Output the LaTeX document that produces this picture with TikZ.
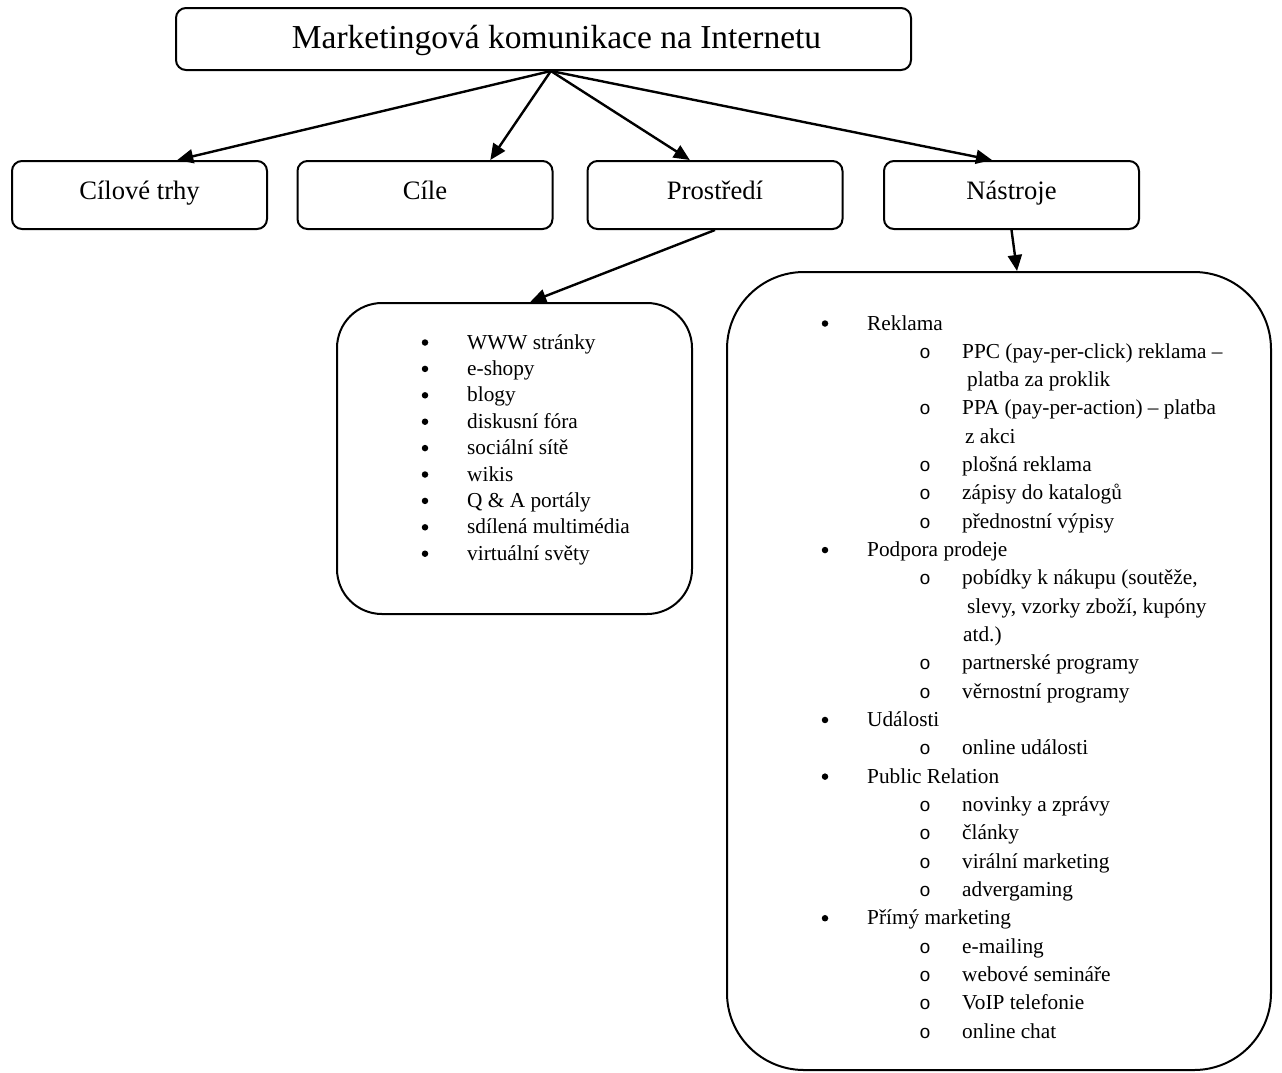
\documentclass[tikz,border=0pt]{standalone}
\usepackage{fontspec}
\setmainfont{Liberation Serif}
\newfontfamily\monof{Liberation Mono}
\usetikzlibrary{arrows.meta,calc}
\begin{document}
\begin{tikzpicture}[x=1pt,y=-1pt,
  box/.style={draw, line width=2pt, rounded corners=10pt, inner sep=0pt, align=center},
  titlebox/.style={box, minimum width=735pt, minimum height=62pt, text height=24pt, text depth=5pt,
    font=\fontsize{33.5}{38}\selectfont},
  rowbox/.style={box, minimum width=255pt, minimum height=68pt, text height=19pt, text depth=11pt,
    font=\fontsize{26.6}{30}\selectfont},
  listbox/.style={draw, line width=2pt, inner sep=0pt},
  conn/.style={line width=2.4pt, -{Triangle[length=16pt,width=14pt]}},
  li/.style={anchor=base west, inner sep=0pt, font=\fontsize{21.3}{25}\selectfont},
  bul/.style={circle, fill=black, inner sep=0pt, minimum size=6.5pt},
  subbul/.style={anchor=base, inner sep=0pt, font=\monof\fontsize{19}{24}\selectfont},
]
\useasboundingbox (0,0) rectangle (1282,1072);

% main boxes
\node[titlebox] (title) at (543.5,39) {\hspace*{26pt}Marketingová komunikace na Internetu};
\node[rowbox] (ct) at (139.5,195) {Cílové trhy};
\node[rowbox] (ci) at (425,195) {Cíle};
\node[rowbox] (pr) at (715,195) {Prostředí};
\node[rowbox] (na) at (1011.5,195) {Nástroje};

% list boxes
\node[listbox, rounded corners=45pt, minimum width=355pt, minimum height=311pt] (plist) at (514.5,458.5) {};
\node[listbox, rounded corners=77pt, minimum width=544pt, minimum height=798pt] (nlist) at (999,671) {};

% connectors
\coordinate (src) at ($(title.south west)!0.51!(title.south east)$);
\draw[conn] (src) -- ($(ct.north west)!0.647!(ct.north east)$);
\draw[conn] (src) -- ($(ci.north west)!0.754!(ci.north east)$);
\draw[conn] (src) -- ($(pr.north west)!0.402!(pr.north east)$);
\draw[conn] (src) -- ($(na.north west)!0.424!(na.north east)$);
\draw[conn] (pr.south) -- ($(plist.north west)!0.544!(plist.north east)$);
\draw[conn] (na.south) -- ($(nlist.north west)!0.533!(nlist.north east)$);

% Prostredi list
\foreach \t [count=\i from 0] in {WWW stránky, e-shopy, blogy, diskusní fóra, sociální sítě, wikis, Q \& A portály, sdílená multimédia, virtuální světy}{
  \node[bul] (pb\i) at (425, 349+26.4*\i-6.5) {};
  \node[li] (pt\i) at (467, 349+26.4*\i) {\t};
}

% Nastroje list: level 1 items
\foreach \i/\t in {0/Reklama, 8/Podpora prodeje, 14/Události, 16/Public Relation, 21/Přímý marketing}{
  \node[bul] (nb\i) at (825, 330+28.32*\i-6.5) {};
  \node[li] (nt\i) at (867, 330+28.32*\i) {\t};
}
% level 2 items
\foreach \i/\t in {1/{PPC (pay-per-click) reklama –}, 3/{PPA (pay-per-action) – platba}, 5/plošná reklama, 6/zápisy do katalogů, 7/přednostní výpisy, 9/{pobídky k nákupu (soutěže,}, 12/partnerské programy, 13/věrnostní programy, 15/online události, 17/novinky a zprávy, 18/články, 19/virální marketing, 20/advergaming, 22/e-mailing, 23/webové semináře, 24/VoIP telefonie, 25/online chat}{
  \node[subbul] (nb\i) at (925, 330+28.32*\i) {o};
  \node[li] (nt\i) at (962, 330+28.32*\i) {\t};
}
% continuation lines
\foreach \i/\x/\t in {2/967/platba za proklik, 4/965/z akci, 10/967/{slevy, vzorky zboží, kupóny}, 11/963/atd.)}{
  \node[li] (nt\i) at (\x, 330+28.32*\i) {\t};
}
\end{tikzpicture}
\end{document}
